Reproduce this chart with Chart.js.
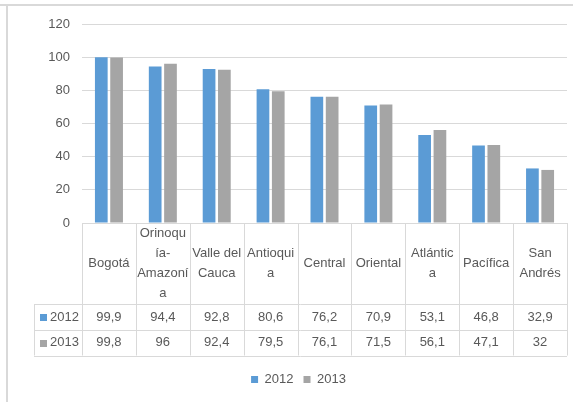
<!DOCTYPE html>
<html>
<head>
<meta charset="utf-8">
<script src="https://cdn.jsdelivr.net/npm/chart.js@4/dist/chart.umd.min.js"></script>
<style>
  html, body { margin: 0; padding: 0; background: #ffffff; }
  #wrap { position: relative; width: 573px; height: 402px; }
</style>
</head>
<body>
<div id="wrap"><canvas id="c" width="573" height="402"></canvas></div>
<script>
// ---- data ----
const categories = ["Bogotá", "Orinoquía-Amazonía", "Valle del Cauca", "Antioquia", "Central", "Oriental", "Atlántica", "Pacífica", "San Andrés"];
const categoryLines = [["Bogotá"], ["Orinoqu", "ía-", "Amazoní", "a"], ["Valle del", "Cauca"], ["Antioqui", "a"], ["Central"], ["Oriental"], ["Atlántic", "a"], ["Pacífica"], ["San", "Andrés"]];
const seriesNames = ["2012", "2013"];
const values2012 = [99.9, 94.4, 92.8, 80.6, 76.2, 70.9, 53.1, 46.8, 32.9];
const values2013 = [99.8, 96, 92.4, 79.5, 76.1, 71.5, 56.1, 47.1, 32];
const yTicks = [0, 20, 40, 60, 80, 100, 120];
const seriesColors = ["#5B9BD5", "#A5A5A5"];

const TEXT = "#595959";
const LINE = "#D9D9D9";
const FONT = "'Liberation Sans', Arial, sans-serif";
const fmt = v => String(v).replace(".", ",");

const tablePlugin = {
  id: "tablePlugin",
  beforeDraw(chart) {
    const ctx = chart.ctx;
    ctx.save();
    ctx.fillStyle = "#ffffff";
    ctx.fillRect(0, 0, chart.width, chart.height);
    ctx.strokeStyle = LINE;
    ctx.lineWidth = 2;
    ctx.beginPath();
    ctx.moveTo(0, 5); ctx.lineTo(chart.width, 5);
    ctx.moveTo(7, 4); ctx.lineTo(7, chart.height);
    ctx.stroke();
    ctx.restore();
  },
  afterDraw(chart) {
    const ctx = chart.ctx;
    const x = chart.scales.x;
    const area = chart.chartArea;
    const top = area.bottom;
    const r0 = top + 81, r1 = r0 + 26, r2 = r1 + 25.5;
    const leftCol = 34;
    const n = categories.length;
    const cw = (area.right - area.left) / n;
    ctx.save();
    ctx.strokeStyle = LINE;
    ctx.lineWidth = 1;
    ctx.beginPath();
    for (let i = 0; i <= n; i++) {
      const px = Math.round(area.left + i * cw) + 0.5;
      ctx.moveTo(px, top); ctx.lineTo(px, r2);
    }
    ctx.moveTo(leftCol + 0.5, r0); ctx.lineTo(leftCol + 0.5, r2);
    [r0, r1, r2].forEach(yy => {
      const py = Math.round(yy) + 0.5;
      ctx.moveTo(leftCol, py); ctx.lineTo(area.right, py);
    });
    ctx.stroke();

    ctx.font = "13px " + FONT;
    ctx.fillStyle = TEXT;
    ctx.textBaseline = "middle";
    const rows = [values2012, values2013];
    const mids = [(r0 + r1) / 2, (r1 + r2) / 2];
    rows.forEach((vals, ri) => {
      const cy = mids[ri];
      ctx.fillStyle = seriesColors[ri];
      ctx.fillRect(40, Math.round(cy) - 3, 7, 7);
      ctx.fillStyle = TEXT;
      ctx.textAlign = "left";
      ctx.fillText(seriesNames[ri], 50, cy);
      ctx.textAlign = "center";
      vals.forEach((v, i) => {
        ctx.fillText(fmt(v), x.getPixelForValue(i), cy);
      });
    });
    ctx.restore();
  }
};

new Chart(document.getElementById("c"), {
  type: "bar",
  data: {
    labels: categoryLines,
    datasets: [
      { label: seriesNames[0], data: values2012, backgroundColor: seriesColors[0], categoryPercentage: 0.568, barPercentage: 0.83 },
      { label: seriesNames[1], data: values2013, backgroundColor: seriesColors[1], categoryPercentage: 0.568, barPercentage: 0.83 }
    ]
  },
  options: {
    responsive: false,
    animation: false,
    devicePixelRatio: 1,
    layout: { padding: { left: 30, right: 6, top: 24, bottom: 6 } },
    plugins: {
      legend: {
        position: "bottom",
        labels: { boxWidth: 7, boxHeight: 7, padding: 10, color: TEXT, font: { family: FONT, size: 13 } }
      },
      tooltip: { enabled: false },
      title: { display: false }
    },
    scales: {
      x: {
        offset: true,
        grid: { display: false, drawTicks: false },
        border: { display: false },
        ticks: {
          color: TEXT, font: { family: FONT, size: 13, lineHeight: "20px" },
          padding: 10, autoSkip: false, maxRotation: 0, minRotation: 0,
          crossAlign: "center"
        },
        afterFit(scale) { scale.height = 140; }
      },
      y: {
        min: 0, max: 120,
        grid: { color: LINE, drawTicks: false, lineWidth: 1 },
        border: { display: false },
        ticks: { color: TEXT, font: { family: FONT, size: 13 }, padding: 12 },
        afterBuildTicks(scale) { scale.ticks = yTicks.map(v => ({ value: v })); },
        afterFit(scale) { scale.width = 52; }
      }
    }
  },
  plugins: [tablePlugin]
});
</script>
</body>
</html>
